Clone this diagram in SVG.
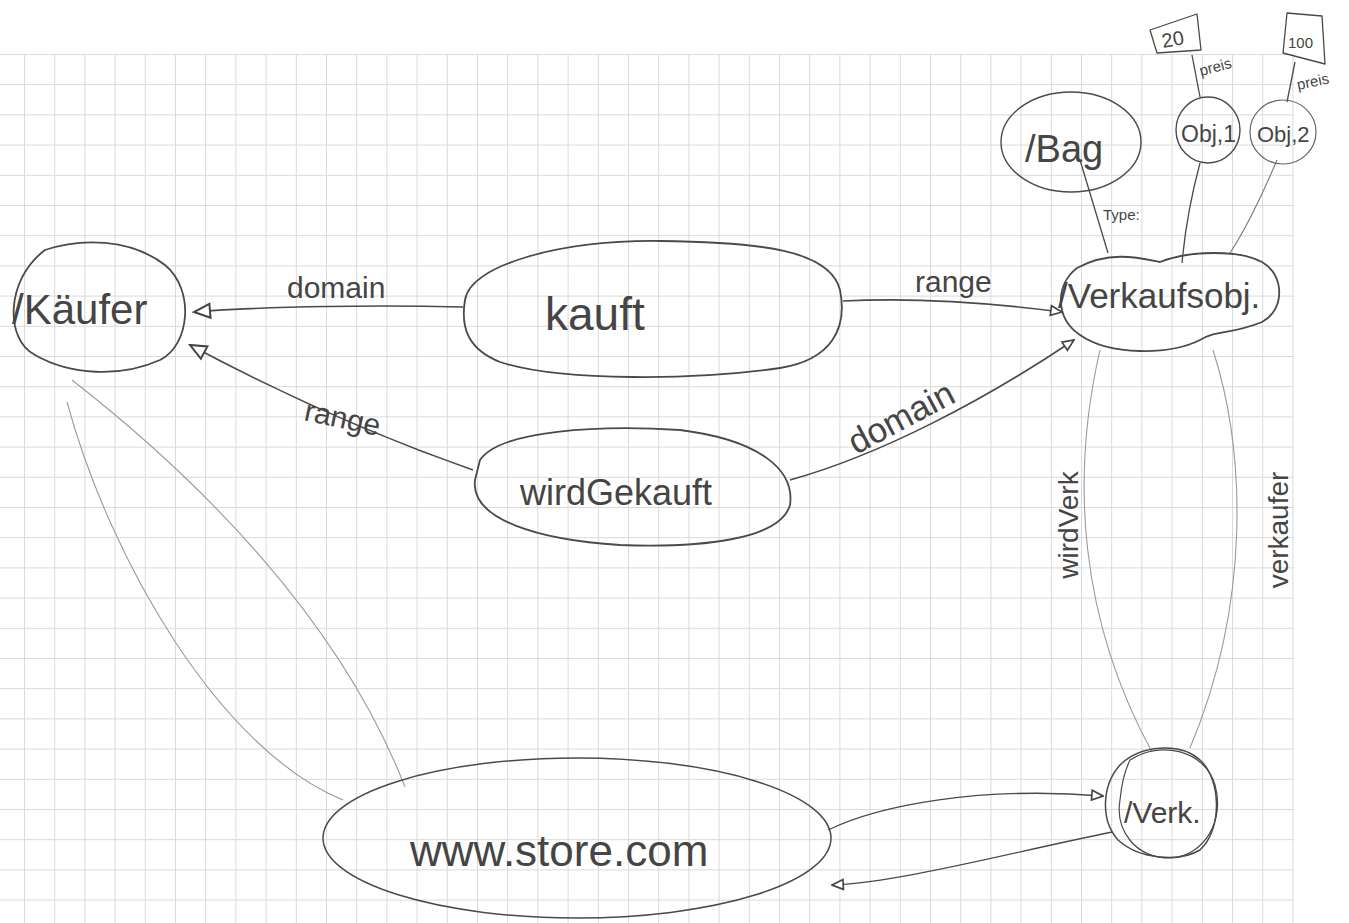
<svg xmlns="http://www.w3.org/2000/svg" width="1349" height="923" viewBox="0 0 1349 923">
<style>
.node{fill:none;stroke:#4a4a4a;stroke-width:1.8;stroke-linejoin:round}
.edge{fill:none;stroke:#4a4a4a;stroke-width:1.6}
.faint{fill:none;stroke:#9a9a9a;stroke-width:1.1}
.t{font-family:"Liberation Sans",Arial,sans-serif;fill:#454545}
</style>
<defs>
<pattern id="grid" patternUnits="userSpaceOnUse" x="24" y="54" width="30.2" height="30.2">
<path d="M0.5,0V30.2M0,0.5H30.2" stroke="#d9d9d9" stroke-width="1" fill="none"/>
</pattern>
<marker id="triL" viewBox="0 0 10 10" refX="9" refY="5" markerWidth="20" markerHeight="20" markerUnits="userSpaceOnUse" orient="auto">
<path d="M1,1.5 L9,5 L1,8.5 Z" fill="#fff" stroke="#444" stroke-width="1"/>
</marker>
<marker id="triS" viewBox="0 0 10 10" refX="9" refY="5" markerWidth="14" markerHeight="14" markerUnits="userSpaceOnUse" orient="auto">
<path d="M1,1.5 L9,5 L1,8.5 Z" fill="#fff" stroke="#444" stroke-width="1.2"/>
</marker>
</defs>
<rect x="0" y="0" width="1349" height="923" fill="#fff"/>
<rect x="0" y="54" width="1294" height="869" fill="url(#grid)"/>

<g id="connectors">
<path class="edge" d="M463,307 C380,305 270,306 194,312" marker-end="url(#triL)"/>
<path class="edge" d="M843,301 C920,297 1000,304 1062,312" marker-end="url(#triS)"/>
<path class="edge" d="M473,470 Q330,420 190,345" marker-end="url(#triL)"/>
<path class="edge" d="M790,480 C880,455 985,400 1074,340" marker-end="url(#triS)"/>
<path class="faint" d="M1100,350 C1070,480 1080,620 1152,752"/>
<path class="faint" d="M1213,350 C1245,450 1252,600 1190,748"/>
<path class="edge" style="stroke-width:1.3" d="M828,830 C880,805 980,786 1103,796" marker-end="url(#triS)"/>
<path class="edge" style="stroke-width:1.3" d="M1112,832 C1000,855 900,882 832,885" marker-end="url(#triS)"/>
<path class="faint" d="M72,380 C200,480 340,620 405,787"/>
<path class="faint" d="M67,402 C110,560 220,750 343,800"/>
<path class="edge" style="stroke-width:1.3" d="M1080,160 L1108,253"/>
<path class="edge" style="stroke-width:1.3" d="M1200,163 C1190,200 1185,230 1182,263"/>
<path class="faint" style="stroke:#777" d="M1277,160 C1260,200 1245,230 1230,253"/>
<path class="edge" style="stroke-width:1.3" d="M1192,55 L1200,97"/>
<path class="edge" style="stroke-width:1.3" d="M1295,62 L1287,102"/>
<text class="t" x="287" y="298" font-size="30">domain</text>
<text class="t" x="915" y="292" font-size="30">range</text>
<text class="t" transform="translate(303,420) rotate(12)" font-size="30">range</text>
<text class="t" transform="translate(856,455) rotate(-28)" font-size="35">domain</text>
<text class="t" transform="translate(1078,525) rotate(-90)" font-size="28" text-anchor="middle">wirdVerk</text>
<text class="t" transform="translate(1288,530) rotate(-90)" font-size="28" text-anchor="middle">verkaufer</text>
<text class="t" x="1103" y="220" font-size="15">Type:</text>
<text class="t" transform="translate(1201,76) rotate(-15)" font-size="15">preis</text>
<text class="t" transform="translate(1298,90) rotate(-12)" font-size="15">preis</text>
</g>

<g id="kaeufer">
<path class="node" d="M45,250 C80,238 130,238 165,265 C195,290 190,345 160,360 C120,378 70,375 35,355 C5,340 5,280 45,250 Z"/>
<text class="t" x="12" y="324" font-size="42">/Käufer</text>
</g>
<g id="kauft">
<path class="node" d="M465,300 C470,265 560,240 660,241 C760,242 830,250 840,290 C848,330 830,360 780,368 C700,380 560,382 500,362 C470,350 460,330 465,300 Z"/>
<text class="t" x="545" y="330" font-size="46">kauft</text>
</g>
<g id="wirdGekauft">
<path class="node" d="M480,460 C500,430 600,425 680,430 C760,440 795,470 790,505 C780,540 700,548 620,545 C540,540 470,520 475,480 Z"/>
<text class="t" x="520" y="505" font-size="36">wirdGekauft</text>
</g>
<g id="verkaufsobj">
<path class="node" d="M1077,268 C1110,250 1140,258 1160,262 C1190,250 1240,250 1262,262 C1285,275 1285,310 1262,322 C1230,335 1215,330 1200,340 C1170,355 1110,356 1080,335 C1055,318 1055,285 1077,268 Z"/>
<text class="t" x="1058" y="308" font-size="35">/Verkaufsobj.</text>
</g>
<g id="bag">
<ellipse class="node" style="stroke-width:1.4" cx="1071" cy="142" rx="70" ry="50"/>
<text class="t" x="1025" y="162" font-size="38">/Bag</text>
</g>
<g id="obj1">
<ellipse class="node" style="stroke-width:1.4" cx="1208" cy="130" rx="32" ry="33"/>
<text class="t" x="1181" y="142" font-size="23">Obj,1</text>
</g>
<g id="obj2">
<ellipse class="node" style="stroke-width:1.2;stroke:#666" cx="1283" cy="132" rx="33" ry="32"/>
<text class="t" x="1257" y="142" font-size="22">Obj,2</text>
</g>
<g id="val20">
<path class="node" style="stroke-width:1.3" d="M1150,30 L1197,14 L1201,50 L1157,53 Z"/>
<text class="t" transform="translate(1163,48) rotate(-10)" font-size="20">20</text>
</g>
<g id="val100">
<path class="node" style="stroke-width:1.3" d="M1287,13 L1322,16 L1325,64 L1283,53 Z"/>
<text class="t" x="1288" y="48" font-size="15">100</text>
</g>
<g id="store">
<ellipse class="node" style="stroke-width:1.5" cx="577" cy="838" rx="254" ry="80"/>
<text class="t" x="410" y="866" font-size="44">www.store.com</text>
</g>
<g id="verk">
<path class="node" style="stroke-width:1.5" d="M1120,765 C1140,745 1180,742 1200,760 C1222,780 1222,830 1200,850 C1180,862 1140,860 1118,840 C1100,820 1102,785 1120,765 Z"/>
<path class="node" style="stroke-width:1.2" d="M1130,760 C1160,740 1205,750 1215,785 C1225,820 1205,856 1170,858 C1135,858 1115,830 1120,800 C1122,780 1125,770 1130,760 Z"/>
<text class="t" x="1124" y="823" font-size="30">/Verk.</text>
</g>
</svg>
